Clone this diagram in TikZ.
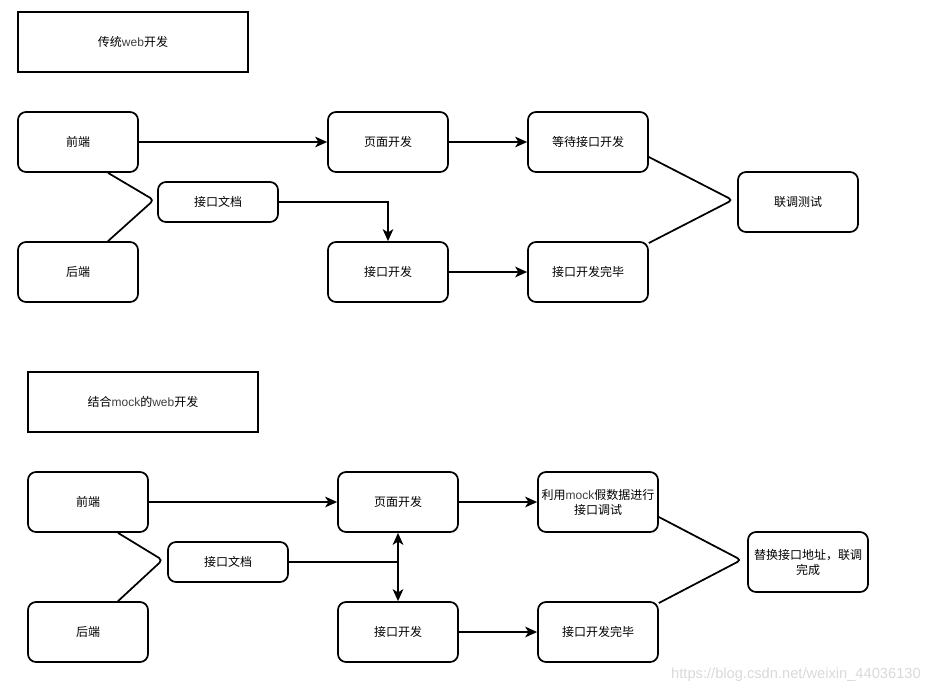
\documentclass[tikz,border=0pt]{standalone}
\usepackage{fontspec}
\setmainfont{Liberation Sans}
\newfontfamily\cjk{Noto Sans CJK SC}
\usetikzlibrary{arrows.meta}
\newcommand\en[1]{{\normalfont\color{black!75}#1}}

\begin{document}
\begin{tikzpicture}[x=0.75pt,y=-0.75pt,
    box/.style={draw, line width=1.3pt, rounded corners=6pt, minimum width=90pt, minimum height=45pt, align=center, inner sep=1pt, font=\cjk\fontsize{9pt}{11.25pt}\selectfont},
    smallbox/.style={box, minimum height=30pt},
    title/.style={draw, line width=1.6pt, minimum width=172.5pt, minimum height=45pt, font=\cjk\fontsize{9pt}{11.25pt}\selectfont},
    arr/.style={-{Stealth[length=9pt,width=8pt,inset=2.5pt]}, line width=1.3pt},
    bracket/.style={line width=1.3pt, rounded corners=3pt}]

    \useasboundingbox (0,0) rectangle (930,693);

	% Traditional web development
	\node[title] (title_0) at (133,42) {传统\en{web}开发};
	\node[box] (fe_0) at (78,142) {前端};
	\node[box] (be_0) at (78,272) {后端};
	\node[smallbox] (doc_0) at (218,202) {接口文档};
	\node[box] (page_0) at (388,142) {页面开发};
	\node[box] (api_0) at (388,272) {接口开发};
	\node[box] (wait_0) at (588,142) {等待接口开发};
	\node[box] (done_0) at (588,272) {接口开发完毕};
	\node[box] (test_0) at (798,202) {联调测试};

	\draw[bracket] ([xshift=22.5pt]fe_0.south) -- ([xshift=-2.5pt,yshift=1.5pt]doc_0.west) -- ([xshift=22.5pt]be_0.north);
	\draw[arr] (fe_0) -- (page_0);
	\draw[arr] (page_0) -- (wait_0);
	\draw[arr] (doc_0.east) -| (api_0.north);
	\draw[arr] (api_0) -- (done_0);
	\draw[bracket] ([yshift=-11.25pt]wait_0.east) -- ([xshift=-3.5pt,yshift=1.5pt]test_0.west) -- ([yshift=21.75pt]done_0.east);

	% Web development with mock
	\node[title] (title_1) at (143,402) {结合\en{mock}的\en{web}开发};
	\node[box] (fe_1) at (88,502) {前端};
	\node[box] (be_1) at (88,632) {后端};
	\node[smallbox] (doc_1) at (228,562) {接口文档};
	\node[box] (page_1) at (398,502) {页面开发};
	\node[box] (api_1) at (398,632) {接口开发};
	\node[box] (mock_1) at (598,502) {利用\en{mock}假数据进行\\接口调试};
	\node[box] (done_1) at (598,632) {接口开发完毕};
	\node[box] (test_1) at (808,562) {替换接口地址，联调\\完成};

	\draw[bracket] ([xshift=22.5pt]fe_1.south) -- ([xshift=-3.5pt,yshift=1.5pt]doc_1.west) -- ([xshift=22.5pt]be_1.north);
	\draw[arr] (fe_1) -- (page_1);
	\draw[arr] (page_1) -- (mock_1);
	\draw[arr, {Stealth[length=9pt,width=8pt,inset=2.5pt]}-{Stealth[length=9pt,width=8pt,inset=2.5pt]}] (page_1.south) -- (api_1.north);
	\draw[line width=1.3pt] (doc_1.east) -- (doc_1.east -| api_1.north);
	\draw[arr] (api_1) -- (done_1);
	\draw[bracket] ([yshift=-11.25pt]mock_1.east) -- ([xshift=-4.5pt,yshift=1.5pt]test_1.west) -- ([yshift=21.75pt]done_1.east);

	% watermark
	\node[anchor=east, text=black!15, font=\fontsize{11pt}{13pt}\selectfont, inner sep=0pt] (mark) at (921,675) {https://blog.csdn.net/weixin\_44036130};

\end{tikzpicture}
\end{document}
